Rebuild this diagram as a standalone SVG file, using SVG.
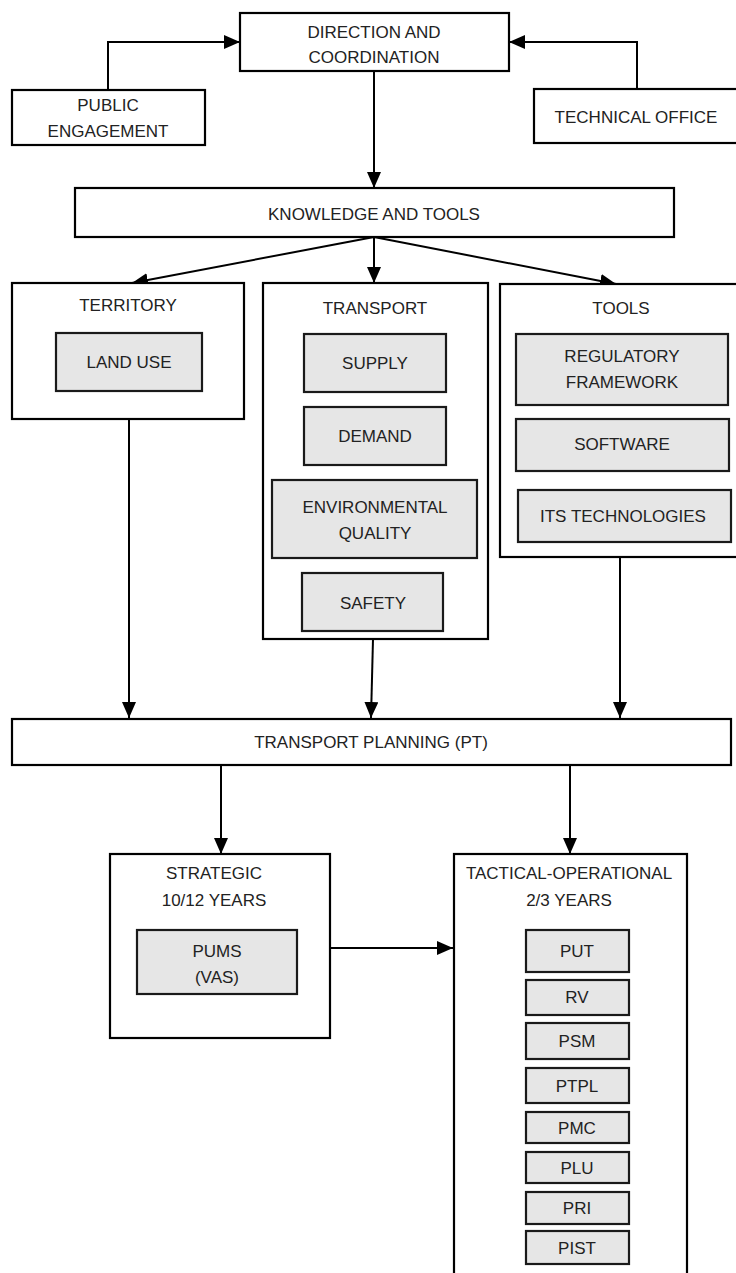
<svg xmlns="http://www.w3.org/2000/svg" width="736" height="1273" viewBox="0 0 736 1273">
<defs>
<marker id="ah" viewBox="0 0 16 14" refX="16" refY="7" markerWidth="16" markerHeight="14" markerUnits="userSpaceOnUse" orient="auto">
<path d="M0,0 L16,7 L0,14 Z" fill="#000"/>
</marker>
<style>
.box{fill:#fff;stroke:#000;stroke-width:2.2}
.sub{fill:#e6e6e6;stroke:#1a1a1a;stroke-width:2.2}
.t{font-family:"Liberation Sans",Arial,sans-serif;font-size:17px;fill:#222;text-anchor:middle}
.c{fill:none;stroke:#000;stroke-width:2;marker-end:url(#ah)}
</style>
</defs>
<rect width="736" height="1273" fill="#fff"/>
<g id="connectors">
<path class="c" d="M108,90 V42 H240"/>
<path class="c" d="M637,89 V42 H509"/>
<path class="c" d="M374,71 V188"/>
<path class="c" d="M374,237 L132,283"/>
<path class="c" d="M374,237 V283"/>
<path class="c" d="M374,237 L616,284"/>
<path class="c" d="M129,419 V718"/>
<path class="c" d="M373,639 L371,718"/>
<path class="c" d="M620,557 V718"/>
<path class="c" d="M221,765 V854"/>
<path class="c" d="M570,765 V854"/>
<path class="c" d="M330,948 H453"/>
</g>
<g id="direction">
<rect class="box" x="240" y="13" width="269" height="58"/>
<text class="t" x="374" y="38">DIRECTION AND</text>
<text class="t" x="374" y="63">COORDINATION</text>
</g>
<g id="public">
<rect class="box" x="12" y="90" width="193" height="55"/>
<text class="t" x="108" y="111">PUBLIC</text>
<text class="t" x="108" y="137">ENGAGEMENT</text>
</g>
<g id="technical">
<rect class="box" x="534" y="89" width="215" height="54"/>
<text class="t" x="636" y="123">TECHNICAL OFFICE</text>
</g>
<g id="knowledge">
<rect class="box" x="75" y="188" width="599" height="49"/>
<text class="t" x="374" y="220">KNOWLEDGE AND TOOLS</text>
</g>
<g id="territory">
<rect class="box" x="12" y="283" width="232" height="136"/>
<text class="t" x="128" y="311">TERRITORY</text>
<g id="landuse">
<rect class="sub" x="56" y="333" width="146" height="58"/>
<text class="t" x="129" y="368">LAND USE</text>
</g>
</g>
<g id="transport">
<rect class="box" x="263" y="283" width="225" height="356"/>
<text class="t" x="375" y="314">TRANSPORT</text>
<g id="supply">
<rect class="sub" x="304" y="334" width="142" height="58"/>
<text class="t" x="375" y="369">SUPPLY</text>
</g>
<g id="demand">
<rect class="sub" x="304" y="407" width="142" height="58"/>
<text class="t" x="375" y="442">DEMAND</text>
</g>
<g id="environmental">
<rect class="sub" x="272" y="480" width="205" height="78"/>
<text class="t" x="375" y="513">ENVIRONMENTAL</text>
<text class="t" x="375" y="539">QUALITY</text>
</g>
<g id="safety">
<rect class="sub" x="302" y="573" width="141" height="58"/>
<text class="t" x="373" y="609">SAFETY</text>
</g>
</g>
<g id="tools">
<rect class="box" x="500" y="284" width="250" height="273"/>
<text class="t" x="621" y="314">TOOLS</text>
<g id="regulatory">
<rect class="sub" x="516" y="334" width="212" height="71"/>
<text class="t" x="622" y="362">REGULATORY</text>
<text class="t" x="622" y="388">FRAMEWORK</text>
</g>
<g id="software">
<rect class="sub" x="516" y="419" width="213" height="52"/>
<text class="t" x="622" y="450">SOFTWARE</text>
</g>
<g id="its">
<rect class="sub" x="518" y="490" width="213" height="52"/>
<text class="t" x="623" y="522">ITS TECHNOLOGIES</text>
</g>
</g>
<g id="planning">
<rect class="box" x="12" y="719" width="719" height="46"/>
<text class="t" x="371" y="748">TRANSPORT PLANNING (PT)</text>
</g>
<g id="strategic">
<rect class="box" x="110" y="854" width="220" height="184"/>
<text class="t" x="214" y="879">STRATEGIC</text>
<text class="t" x="214" y="906">10/12 YEARS</text>
<g id="pums">
<rect class="sub" x="137" y="930" width="160" height="64"/>
<text class="t" x="217" y="957">PUMS</text>
<text class="t" x="217" y="983">(VAS)</text>
</g>
</g>
<g id="tactical">
<rect class="box" x="454" y="854" width="233" height="440"/>
<text class="t" x="569" y="879">TACTICAL-OPERATIONAL</text>
<text class="t" x="569" y="906">2/3 YEARS</text>
<g id="put"><rect class="sub" x="526" y="930" width="103" height="42"/><text class="t" x="577" y="957">PUT</text></g>
<g id="rv"><rect class="sub" x="526" y="980" width="103" height="35"/><text class="t" x="577" y="1003">RV</text></g>
<g id="psm"><rect class="sub" x="526" y="1023" width="103" height="36"/><text class="t" x="577" y="1047">PSM</text></g>
<g id="ptpl"><rect class="sub" x="526" y="1068" width="103" height="35"/><text class="t" x="577" y="1092">PTPL</text></g>
<g id="pmc"><rect class="sub" x="526" y="1112" width="103" height="31"/><text class="t" x="577" y="1134">PMC</text></g>
<g id="plu"><rect class="sub" x="526" y="1152" width="103" height="31"/><text class="t" x="577" y="1174">PLU</text></g>
<g id="pri"><rect class="sub" x="526" y="1192" width="103" height="32"/><text class="t" x="577" y="1214">PRI</text></g>
<g id="pist"><rect class="sub" x="526" y="1231" width="103" height="33"/><text class="t" x="577" y="1254">PIST</text></g>
</g>
</svg>
